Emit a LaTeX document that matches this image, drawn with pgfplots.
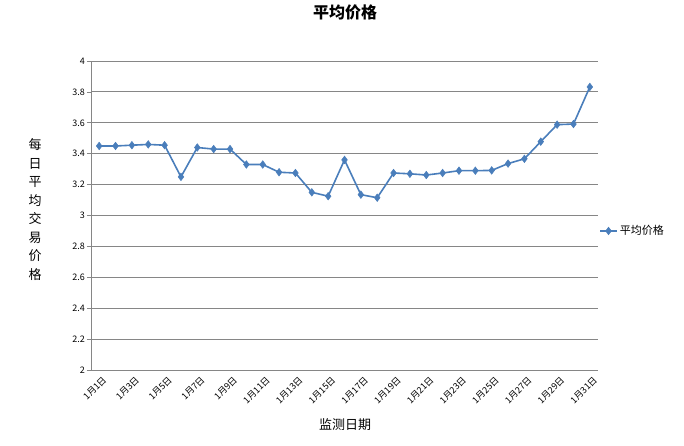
\documentclass[border=0pt]{standalone}
\usepackage{pgfplots}
\pgfplotsset{compat=1.18}
\usepackage{pgfplotstable}
\usepackage{fontspec}
\setmainfont{Noto Sans CJK SC}
\definecolor{lineblue}{RGB}{74,126,187}
\definecolor{gridgray}{RGB}{134,134,134}
\pgfplotstableread{
day price
1 3.45
2 3.45
3 3.455
4 3.46
5 3.455
6 3.25
7 3.44
8 3.43
9 3.43
10 3.33
11 3.33
12 3.28
13 3.275
14 3.15
15 3.125
16 3.36
17 3.135
18 3.115
19 3.275
20 3.27
21 3.262
22 3.275
23 3.29
24 3.29
25 3.292
26 3.336
27 3.367
28 3.478
29 3.588
30 3.592
31 3.832
}\pricedata
\begin{document}
\begin{tikzpicture}
\path[use as bounding box] (0,0) rectangle (684pt,445pt);
\begin{axis}[
  at={(91pt,75pt)}, anchor=south west,
  scale only axis, width=507pt, height=309pt,
  xmin=0.5, xmax=31.5, ymin=2, ymax=4,
  axis x line=bottom, axis y line=left,
  axis line style={draw=gridgray, line width=0.8pt, -},
  ytick={2,2.2,...,4.01},
  yticklabels={2,2.2,2.4,2.6,2.8,3,3.2,3.4,3.6,3.8,4},
  ymajorgrids, grid style={draw=gridgray, line width=0.9pt},
  xtick={1,3,...,31},
  xticklabels={1月1日,1月3日,1月5日,1月7日,1月9日,1月11日,1月13日,1月15日,1月17日,1月19日,1月21日,1月23日,1月25日,1月27日,1月29日,1月31日},
  x tick style={draw=none},
  extra x ticks={0.5,2.5,...,30.5},
  extra x tick labels={},
  extra x tick style={tick style={draw=gridgray, line width=0.8pt}, major tick length=4pt, grid=none},
  y tick style={draw=gridgray, line width=0.8pt},
  tick align=outside, major tick length=4pt,
  xticklabel style={font=\fontsize{9}{9}\selectfont, rotate=45, anchor=north east, inner sep=1pt, xshift=2pt, yshift=-2pt},
  yticklabel style={font=\fontsize{9}{9}\selectfont, inner sep=1pt, xshift=-1pt},
  title={\bfseries 平均价格},
  title style={font=\fontsize{16}{16}\selectfont, at={(axis description cs:0.501,1.139)}, anchor=center},
  xlabel={监测日期},
  xlabel style={font=\fontsize{13}{13}\selectfont, at={(axis description cs:0.501,-0.178)}, anchor=center},
  ylabel={每\\日\\平\\均\\交\\易\\价\\格},
  ylabel style={font=\fontsize{13}{18.5}\selectfont, rotate=-90, align=center, at={(axis description cs:-0.11,0.52)}, anchor=center},
  legend style={at={(1.0,0.45)}, anchor=west, draw=none, fill=none, font=\fontsize{11}{11}\selectfont, inner sep=1pt},
  legend cell align=left,
  /pgf/number format/assume math mode=true,
  clip=false,
]
\addplot[color=lineblue, line width=1.6pt, mark=diamond*, mark size=3.8pt, mark options={fill=lineblue, line width=0.5pt}] table[x=day, y=price] {\pricedata};
\addlegendentry{平均价格}
\end{axis}
\end{tikzpicture}
\end{document}
